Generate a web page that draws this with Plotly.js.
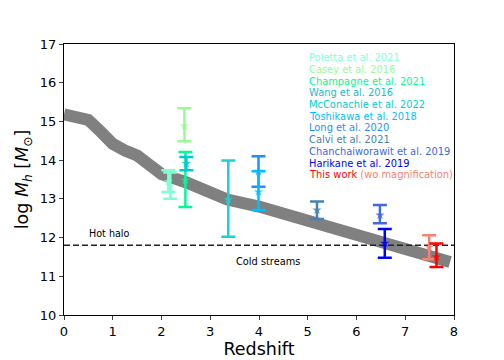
<!DOCTYPE html>
<html>
<head>
<meta charset="utf-8">
<script src="https://cdn.plot.ly/plotly-3.0.1.min.js"></script>
<style>
  html, body { margin: 0; padding: 0; background: white; }
  #grafico { width: 504px; height: 360px; }
</style>
</head>
<body>
<div id="grafico"></div>
<script>
// Banda gris: masa de halo critica frente al redshift
const bandaZ = [0, 0.5, 0.75, 1.0, 1.25, 1.5, 1.75, 2.0, 2.5, 3.0, 3.35, 4.0, 4.85, 5.5, 6.0, 6.55, 7.0, 7.5, 7.92];
const bandaM = [15.18, 15.04, 14.74, 14.42, 14.25, 14.12, 13.88, 13.64, 13.43, 13.17, 12.98, 12.8, 12.5, 12.26, 12.08, 11.87, 11.7, 11.52, 11.37];

// Limite hot halo / cold streams
const limiteM = 11.8;

// Leyenda (texto coloreado)
const etiquetas = [
    'Poletta et al. 2021', 'Casey et al. 2016', 'Champagne et al. 2021', 'Wang et al. 2016',
    'McConachie et al. 2022', 'Toshikawa et al. 2018', 'Long et al. 2020', 'Calvi et al. 2021',
    'Chanchaiworawit et al. 2019', 'Harikane et al. 2019', 'This work'
];
const colores = [
    '#7fffd4', '#98fb98', '#00fa9a', '#1cbcd0',
    '#00ced1', '#00bfff', '#1e90ff', '#4682b4',
    '#4169e1', '#0000ff', '#ff0000'
];
const colorSinMag = '#fa8072';

// Puntos con barras de error: redshift, log Mh, limite superior, limite inferior, color
const puntosZ  = [2.14, 2.18, 2.47, 2.49, 2.51, 3.37, 3.99, 3.99, 5.19, 6.48, 6.58, 7.49, 7.64];
const puntosM  = [13.45, 13.33, 14.88, 13.48, 13.91, 12.98, 13.71, 13.18, 12.71, 12.58, 11.85, 11.75, 11.5];
const puntosHi = [13.74, 13.68, 15.34, 14.21, 14.08, 13.99, 14.1, 13.71, 12.93, 12.84, 12.22, 12.06, 11.85];
const puntosLo = [13.18, 13.0, 14.49, 12.79, 13.74, 12.02, 13.31, 12.71, 12.48, 12.37, 11.48, 11.44, 11.24];
const puntosColor = [
    '#7fffd4', '#7fffd4', '#98fb98', '#00fa9a', '#00c8d8', '#20d0d0',
    '#1e90ff', '#00bfff', '#4682b4', '#4169e1', '#0000ff', '#fa8072', '#ff0000'
];

const fuente = 'DejaVu Sans, Arial, sans-serif';

const trazas = [];

trazas.push({
    x: bandaZ,
    y: bandaM,
    mode: 'lines',
    line: { color: '#808080', width: 12 },
    hoverinfo: 'skip',
    showlegend: false
});

trazas.push({
    x: [0, 8],
    y: [limiteM, limiteM],
    mode: 'lines',
    line: { color: '#222222', width: 1.5, dash: '6px,3px' },
    showlegend: false
});

puntosZ.forEach((z, i) => {
    trazas.push({
        x: [z],
        y: [puntosM[i]],
        mode: 'markers',
        marker: { symbol: 'star', size: 7, color: puntosColor[i], opacity: 0.8 },
        error_y: {
            type: 'data',
            symmetric: false,
            array: [puntosHi[i] - puntosM[i]],
            arrayminus: [puntosM[i] - puntosLo[i]],
            color: puntosColor[i],
            thickness: 2.5,
            width: 7
        },
        showlegend: false
    });
});

// Anotaciones de la leyenda
const anotaciones = etiquetas.map((txt, i) => ({
    x: 4.99,
    y: 16.64 - i * 0.3016,
    xref: 'x', yref: 'y',
    xanchor: 'left', yanchor: 'middle',
    showarrow: false,
    text: i === etiquetas.length - 1
        ? txt + ' <span style="color:' + colorSinMag + '">(wo magnification)</span>'
        : txt,
    font: { family: fuente, size: 9.9, color: colores[i] }
}));

anotaciones.push({
    x: 0.48, y: 12.1, xref: 'x', yref: 'y',
    xanchor: 'left', yanchor: 'middle', showarrow: false,
    text: 'Hot halo', font: { family: fuente, size: 9.6, color: 'black' }
});
anotaciones.push({
    x: 3.49, y: 11.37, xref: 'x', yref: 'y',
    xanchor: 'left', yanchor: 'middle', showarrow: false,
    text: 'Cold streams', font: { family: fuente, size: 9.8, color: 'black' }
});

const layout = {
    width: 504,
    height: 360,
    margin: { l: 64, r: 50, t: 44, b: 45 },
    paper_bgcolor: 'white',
    plot_bgcolor: 'white',
    font: { family: fuente, size: 13, color: 'black' },
    showlegend: false,
    xaxis: {
        range: [0, 8],
        dtick: 1,
        ticks: 'outside',
        ticklen: 4,
        tickwidth: 1,
        showgrid: false,
        zeroline: false,
        showline: true,
        linecolor: 'black',
        linewidth: 1,
        mirror: true,
        tickfont: { family: fuente, size: 13 },
        title: { text: 'Redshift', font: { family: fuente, size: 17.5 }, standoff: 3 }
    },
    yaxis: {
        range: [10, 17],
        dtick: 1,
        ticks: 'outside',
        ticklen: 4,
        tickwidth: 1,
        showgrid: false,
        zeroline: false,
        showline: true,
        linecolor: 'black',
        linewidth: 1,
        mirror: true,
        tickfont: { family: fuente, size: 13 },
        title: {
            text: 'log <i>M</i><sub><i>h</i></sub> [<i>M</i><sub>⊙</sub>]',
            font: { family: fuente, size: 17.5 },
            standoff: 6
        }
    },
    annotations: anotaciones
};

Plotly.newPlot('grafico', trazas, layout, { displayModeBar: false, staticPlot: true });
</script>
</body>
</html>
